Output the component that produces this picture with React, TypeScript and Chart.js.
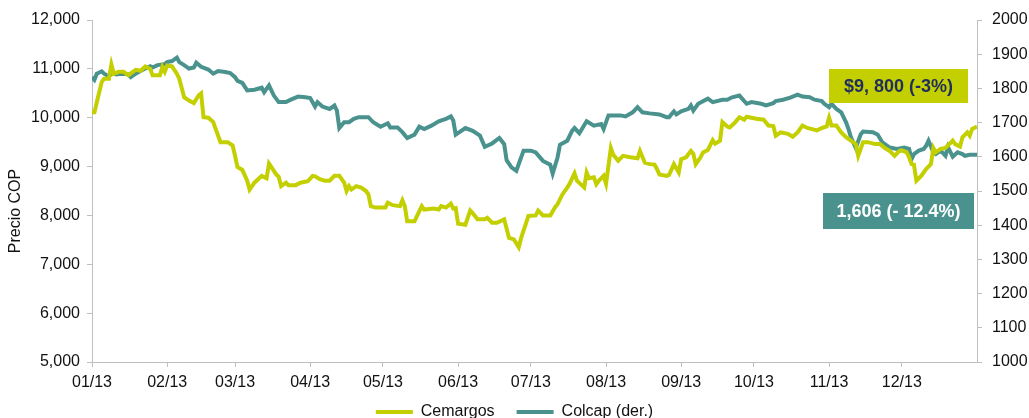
import React, { useEffect, useRef } from 'react';
import { Chart, registerables } from 'chart.js';

Chart.register(...registerables);

const monthTickDays = [0, 31, 59, 90, 120, 151, 181, 212, 243, 273, 304, 334];
const monthTickLabels = ['01/13', '02/13', '03/13', '04/13', '05/13', '06/13', '07/13', '08/13', '09/13', '10/13', '11/13', '12/13'];

const cemargosDays = [0, 1, 2, 4, 5, 7, 8, 9, 11, 13, 15, 18, 20, 22, 24, 25, 28, 29, 30, 31, 33, 35, 36, 38, 40, 42, 44, 45, 46, 48, 50, 51, 53, 56, 58, 59, 60, 62, 64, 65, 67, 70, 72, 73, 76, 77, 78, 80, 81, 84, 86, 89, 91, 92, 94, 96, 98, 100, 102, 104, 105, 106, 107, 109, 111, 113, 114, 115, 117, 121, 122, 124, 127, 128, 129, 130, 133, 135, 136, 137, 141, 143, 144, 146, 148, 149, 150, 151, 154, 156, 157, 159, 162, 163, 165, 167, 170, 172, 174, 176, 177, 180, 183, 184, 186, 189, 191, 192, 194, 196, 197, 199, 200, 203, 204, 205, 207, 208, 209, 211, 212, 214, 215, 217, 219, 222, 225, 226, 228, 230, 232, 233, 234, 237, 238, 240, 242, 243, 245, 247, 248, 249, 251, 252, 254, 256, 257, 259, 260, 262, 263, 265, 267, 269, 270, 272, 274, 277, 279, 281, 282, 284, 287, 289, 291, 293, 295, 299, 301, 303, 304, 305, 307, 309, 311, 313, 315, 316, 318, 320, 323, 325, 327, 329, 331, 333, 334, 336, 337, 338, 339, 340, 342, 344, 346, 347, 348, 350, 352, 355, 356, 358, 359, 361, 362, 363, 365];
const cemargosValues = [10110, 10110, 10320, 10730, 10800, 10800, 11090, 10900, 10940, 10940, 10870, 10980, 10960, 11050, 11000, 10870, 10870, 11040, 10940, 11070, 11050, 10900, 10800, 10420, 10350, 10300, 10460, 10500, 10010, 10000, 9910, 9770, 9500, 9500, 9430, 9220, 8990, 8930, 8710, 8530, 8670, 8810, 8760, 9060, 8840, 8790, 8600, 8670, 8620, 8620, 8670, 8700, 8810, 8800, 8740, 8710, 8710, 8810, 8810, 8670, 8500, 8600, 8530, 8600, 8570, 8500, 8430, 8190, 8160, 8160, 8260, 8210, 8190, 8310, 8190, 7880, 7880, 8090, 8190, 8120, 8140, 8120, 8190, 8160, 8240, 8140, 8150, 7830, 7810, 8100, 8050, 7920, 7920, 7950, 7850, 7850, 7920, 7540, 7510, 7350, 7540, 7990, 8000, 8100, 8000, 8000, 8170, 8230, 8430, 8570, 8650, 8860, 8710, 8570, 8880, 8760, 8780, 8640, 8710, 8810, 8650, 9380, 9240, 9120, 9220, 9190, 9170, 9320, 9080, 9050, 9040, 8950, 8840, 8810, 8830, 9050, 8880, 9150, 9190, 9320, 9260, 9050, 9190, 9290, 9340, 9540, 9470, 9530, 9910, 9820, 9800, 9890, 10010, 9960, 10020, 10000, 9980, 9960, 9840, 9830, 9630, 9700, 9670, 9610, 9700, 9840, 9790, 9740, 9790, 9820, 10000, 9840, 9840, 9700, 9600, 9530, 9460, 9220, 9500, 9500, 9460, 9460, 9380, 9320, 9220, 9320, 9330, 9290, 9190, 9050, 9040, 8710, 8810, 8950, 9050, 9380, 9290, 9360, 9380, 9530, 9460, 9410, 9600, 9700, 9630, 9770, 9820];

const colcapDays = [0, 1, 2, 4, 5, 7, 8, 10, 12, 15, 16, 18, 20, 22, 24, 25, 27, 30, 31, 33, 35, 36, 38, 40, 42, 43, 45, 48, 50, 52, 55, 57, 59, 60, 62, 64, 67, 70, 71, 73, 75, 77, 80, 82, 85, 88, 90, 92, 93, 95, 98, 100, 101, 102, 104, 106, 108, 110, 114, 116, 119, 122, 123, 126, 128, 130, 133, 135, 137, 140, 143, 146, 148, 149, 150, 154, 157, 160, 162, 165, 168, 170, 171, 173, 175, 176, 178, 181, 183, 186, 189, 190, 192, 193, 196, 198, 199, 201, 204, 207, 210, 211, 213, 218, 220, 223, 225, 227, 230, 234, 237, 238, 240, 241, 243, 246, 247, 248, 250, 254, 256, 260, 262, 264, 267, 270, 272, 276, 278, 281, 282, 285, 288, 291, 293, 296, 298, 301, 302, 304, 305, 307, 309, 311, 312, 313, 315, 317, 318, 322, 324, 326, 329, 332, 335, 337, 338, 339, 341, 343, 344, 345, 347, 348, 350, 352, 353, 355, 357, 359, 360, 362, 365];
const colcapValues = [1833, 1825, 1843, 1850, 1843, 1835, 1845, 1841, 1843, 1841, 1833, 1843, 1851, 1858, 1865, 1861, 1868, 1871, 1877, 1880, 1890, 1877, 1868, 1858, 1861, 1875, 1863, 1855, 1843, 1851, 1848, 1845, 1833, 1822, 1816, 1794, 1796, 1802, 1789, 1809, 1779, 1760, 1760, 1767, 1776, 1774, 1772, 1747, 1760, 1747, 1740, 1750, 1735, 1684, 1701, 1701, 1711, 1716, 1716, 1701, 1688, 1698, 1686, 1686, 1672, 1655, 1665, 1688, 1681, 1691, 1704, 1711, 1718, 1706, 1665, 1684, 1676, 1662, 1629, 1639, 1655, 1637, 1590, 1569, 1559, 1579, 1618, 1618, 1613, 1588, 1577, 1551, 1598, 1635, 1647, 1676, 1684, 1669, 1704, 1691, 1696, 1681, 1721, 1721, 1718, 1730, 1745, 1730, 1727, 1724, 1716, 1716, 1733, 1724, 1733, 1740, 1750, 1735, 1755, 1770, 1760, 1767, 1767, 1774, 1779, 1755, 1760, 1755, 1750, 1757, 1763, 1767, 1773, 1782, 1776, 1774, 1767, 1763, 1755, 1745, 1755, 1740, 1730, 1701, 1681, 1657, 1626, 1665, 1674, 1672, 1665, 1642, 1627, 1623, 1627, 1623, 1593, 1608, 1618, 1623, 1632, 1647, 1613, 1608, 1618, 1603, 1629, 1600, 1613, 1608, 1603, 1606, 1606];

const cemargosName = 'Cemargos';
const colcapName = 'Colcap (der.)';
const cemargosNote = '$9, 800 (-3%)';
const colcapNote = '1,606 (- 12.4%)';
const yTitle = 'Precio COP';

const YELLOW = '#C4CF00';
const TEAL = '#4A928E';
const NAVY = '#1F2E5E';
const AXIS = '#BFBFBF';
const TEXT = '#111111';
const FONT = "'Liberation Sans', Arial, sans-serif";
const LEGEND_LIFT = 10;

const legendLift = {
  id: 'legendLift',
  afterLayout(chart: any) {
    const lg = chart.legend;
    if (lg) {
      lg.top -= LEGEND_LIFT;
      lg.bottom -= LEGEND_LIFT;
    }
  },
};

const extras = {
  id: 'extras',
  afterDraw(chart: any) {
    const { ctx, chartArea } = chart;
    ctx.save();
    ctx.translate(16, 211);
    ctx.rotate(-Math.PI / 2);
    ctx.fillStyle = TEXT;
    ctx.font = `16px ${FONT}`;
    ctx.textAlign = 'center';
    ctx.textBaseline = 'middle';
    ctx.fillText(yTitle, 0, 0);
    ctx.restore();

    const boxes = [
      { text: cemargosNote, fill: YELLOW, color: NAVY, left: chartArea.right - 148, top: 69, w: 139, h: 34 },
      { text: colcapNote, fill: TEAL, color: '#FFFFFF', left: chartArea.right - 154, top: 193, w: 151, h: 36 },
    ];
    ctx.save();
    for (const b of boxes) {
      ctx.fillStyle = b.fill;
      ctx.fillRect(b.left, b.top, b.w, b.h);
      ctx.fillStyle = b.color;
      ctx.font = `bold 18px ${FONT}`;
      ctx.textAlign = 'center';
      ctx.textBaseline = 'middle';
      ctx.fillText(b.text, b.left + b.w / 2, b.top + b.h / 2 + 1);
    }
    ctx.restore();
  },
};

export default function App() {
  const ref = useRef<HTMLCanvasElement | null>(null);

  useEffect(() => {
    document.body.style.margin = '0';
    const canvas = ref.current;
    if (!canvas) return;
    const chart = new Chart(canvas, {
      type: 'line',
      data: {
        datasets: [
          {
            label: cemargosName,
            data: cemargosDays.map((d, i) => ({ x: d, y: cemargosValues[i] })),
            borderColor: YELLOW,
            backgroundColor: YELLOW,
            borderWidth: 4,
            pointRadius: 0,
            tension: 0,
            yAxisID: 'y',
          },
          {
            label: colcapName,
            data: colcapDays.map((d, i) => ({ x: d, y: colcapValues[i] })),
            borderColor: TEAL,
            backgroundColor: TEAL,
            borderWidth: 4,
            pointRadius: 0,
            tension: 0,
            yAxisID: 'y1',
          },
        ],
      },
      options: {
        responsive: false,
        animation: false,
        events: [],
        layout: { padding: { top: 20, left: 0, right: 0, bottom: -22 } },
        plugins: {
          legend: {
            position: 'bottom',
            labels: {
              usePointStyle: true,
              pointStyle: 'line',
              pointStyleWidth: 37,
              padding: 22,
              color: TEXT,
              font: { family: FONT, size: 16 },
            },
          },
          tooltip: { enabled: false },
        },
        scales: {
          x: {
            type: 'linear',
            min: 0,
            max: 365,
            afterBuildTicks: (scale: any) => {
              scale.ticks = monthTickDays.map((v) => ({ value: v }));
            },
            afterFit: (scale: any) => {
              scale.height = 30;
            },
            ticks: {
              autoSkip: false,
              maxRotation: 0,
              padding: 6,
              color: TEXT,
              font: { family: FONT, size: 16 },
              callback: (_v: any, i: number) => monthTickLabels[i],
            },
            grid: { display: true, drawOnChartArea: false, drawTicks: true, tickLength: 5, color: AXIS },
            border: { display: true, color: AXIS, width: 1 },
          },
          y: {
            position: 'left',
            min: 5000,
            max: 12000,
            afterBuildTicks: (scale: any) => {
              const t = [];
              for (let v = 5000; v <= 12000; v += 1000) t.push({ value: v });
              scale.ticks = t;
            },
            afterFit: (scale: any) => {
              scale.width = 92;
            },
            ticks: {
              padding: 7,
              color: TEXT,
              font: { family: FONT, size: 16 },
              callback: (v: any) => Number(v).toLocaleString('en-US'),
            },
            grid: { display: true, drawOnChartArea: false, drawTicks: true, tickLength: 5, color: AXIS },
            border: { display: true, color: AXIS, width: 1 },
          },
          y1: {
            position: 'right',
            min: 1000,
            max: 2000,
            afterBuildTicks: (scale: any) => {
              const t = [];
              for (let v = 1000; v <= 2000; v += 100) t.push({ value: v });
              scale.ticks = t;
            },
            afterFit: (scale: any) => {
              scale.width = 52;
            },
            ticks: {
              padding: 10,
              color: TEXT,
              font: { family: FONT, size: 16 },
              callback: (v: any) => String(v),
            },
            grid: { display: true, drawOnChartArea: false, drawTicks: true, tickLength: 5, color: AXIS },
            border: { display: true, color: AXIS, width: 1 },
          },
        },
      },
      plugins: [legendLift, extras],
    } as any);
    return () => chart.destroy();
  }, []);

  return (
    <div style={{ position: 'absolute', left: 0, top: 0, width: 1029, height: 418, background: '#fff' }}>
      <canvas ref={ref} width={1029} height={418} style={{ display: 'block', width: 1029, height: 418 }} />
    </div>
  );
}
